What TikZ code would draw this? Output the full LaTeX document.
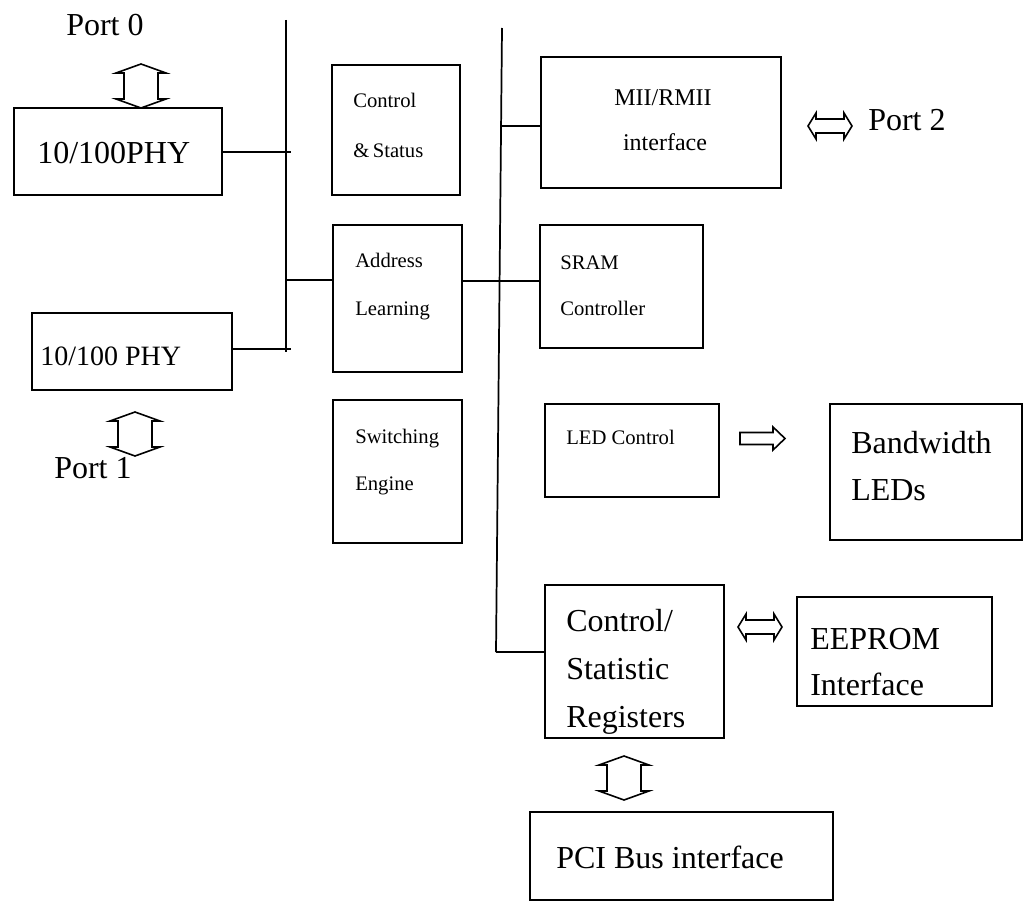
\documentclass[tikz,border=0pt]{standalone}
\usepackage{fontspec}
\setmainfont{Liberation Serif}
\usetikzlibrary{fit}
\begin{document}
\begin{tikzpicture}[x=0.75pt,y=-0.75pt,
  box/.style={draw,line width=1.3pt,inner sep=0pt},
  bus/.style={line width=1.3pt},
  blk/.style={draw,line width=1.2pt,line join=miter},
  big/.style={inner sep=0pt,anchor=base west,font=\fontsize{24pt}{28pt}\selectfont},
  mid/.style={inner sep=0pt,anchor=base,font=\fontsize{18pt}{22pt}\selectfont},
  phyb/.style={inner sep=0pt,anchor=base west,font=\fontsize{21pt}{25pt}\selectfont},
  small/.style={inner sep=0pt,anchor=base west,font=\fontsize{15.5pt}{19pt}\selectfont},
  vdarrow/.pic={\draw[blk] (0,-22) -- (25,-13) -- (17,-13) -- (17,13) -- (25,13) -- (0,22) -- (-25,13) -- (-17,13) -- (-17,-13) -- (-25,-13) -- cycle;},
  hdarrow/.pic={\draw[blk] (-22,0) -- (-14,-13) -- (-14,-7) -- (14,-7) -- (14,-13) -- (22,0) -- (14,13) -- (14,7) -- (-14,7) -- (-14,13) -- cycle;},
  rarrow/.pic={\draw[blk] (-22,-6) -- (11,-6) -- (11,-11.5) -- (23,0) -- (11,11.5) -- (11,6) -- (-22,6) -- cycle;}
]
\useasboundingbox (0,0) rectangle (1030,920);

% boxes
\node[box,fit={(14,108) (222,195)}] (phyA) {};
\node[box,fit={(32,313) (232,390)}] (phyB) {};
\node[box,fit={(332,65) (460,195)}] (cs) {};
\node[box,fit={(333,225) (462,372)}] (al) {};
\node[box,fit={(333,400) (462,543)}] (se) {};
\node[box,fit={(541,57) (781,188)}] (mii) {};
\node[box,fit={(540,225) (703,348)}] (sram) {};
\node[box,fit={(545,404) (719,497)}] (led) {};
\node[box,fit={(830,404) (1022,540)}] (bw) {};
\node[box,fit={(545,585) (724,738)}] (csr) {};
\node[box,fit={(797,597) (992,706)}] (eep) {};
\node[box,fit={(530,812) (833,900)}] (pci) {};

% texts
\node[big] (tp0) at (66,36) {Port 0};
\node[big] (tphyA) at (37,163) {10/100PHY};
\node[phyb] (tphyB) at (40,365) {10/100 PHY};
\node[big] (tp1) at (54,478) {Port 1};
\node[big] (tp2) at (868,131) {Port 2};
\node[small] (tcs1) at (353,108) {Control};
\node[small] (tcs2) at (353,157) {\&\,Status};
\node[small] (tal1) at (355,267) {Address};
\node[small] (tal2) at (355,315) {Learning};
\node[small] (tse1) at (355,443) {Switching};
\node[small] (tse2) at (355,490) {Engine};
\node[small] (tsr1) at (560,269) {SRAM};
\node[small] (tsr2) at (560,315) {Controller};
\node[small] (tled) at (566,444) {LED Control};
\node[mid] (tmii1) at (663,106) {MII/RMII};
\node[mid] (tmii2) at (665,151) {interface};
\node[big] (tbw1) at (851,453) {Bandwidth};
\node[big] (tbw2) at (851,500) {LEDs};
\node[big] (tcr1) at (566,631) {Control/};
\node[big] (tcr2) at (566,679) {Statistic};
\node[big] (tcr3) at (566,727) {Registers};
\node[big] (tee1) at (810,649) {EEPROM};
\node[big] (tee2) at (810,695) {Interface};
\node[big] (tpci) at (556,868) {PCI Bus interface};

% buses
\coordinate (b1top) at (286,20);
\coordinate (b1bot) at (286,352);
\coordinate (b2top) at (502,28);
\coordinate (b2bot) at (496,652);
\draw[bus] (b1top) -- (b1bot);
\draw[bus] (b2top) -- (b2bot);

% connectors
\coordinate (b1A) at (291,152);
\coordinate (b1B) at (291,349);
\coordinate (b1C) at (286,280);
\coordinate (b2M) at (501,126);
\coordinate (alS) at (462,281);
\draw[bus] (phyA.east |- b1A) -- (b1A);
\draw[bus] (phyB.east |- b1B) -- (b1B);
\draw[bus] (b1C) -- (b1C -| al.west);
\draw[bus] (alS) -- (alS -| sram.west);
\draw[bus] (b2M) -- (b2M -| mii.west);
\draw[bus] (b2bot) -- (b2bot -| csr.west);

% block arrows
\pic at (141,86) {vdarrow};
\pic at (135,434) {vdarrow};
\pic at (624,778) {vdarrow};
\pic at (830,126) {hdarrow};
\pic at (760,627) {hdarrow};
\pic at (762,438.5) {rarrow};
\end{tikzpicture}
\end{document}
